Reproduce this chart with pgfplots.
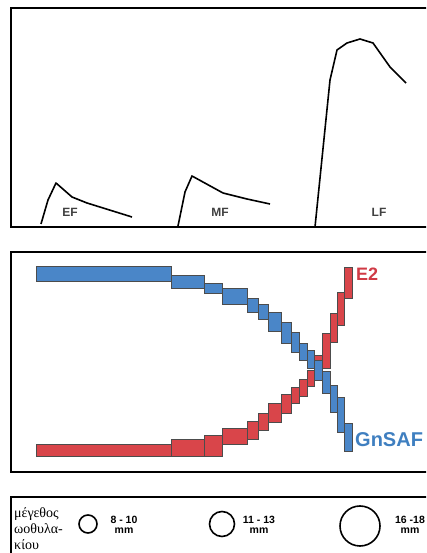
\documentclass[border=0pt]{standalone}
\usepackage{pgfplots}
\pgfplotsset{compat=1.18}
\usepackage{fontspec}
\setmainfont{Liberation Sans}
\newfontfamily\grfont{Liberation Serif}

\definecolor{gnblue}{RGB}{74,134,200}
\definecolor{e2red}{RGB}{217,69,74}
\definecolor{e2text}{RGB}{208,58,69}
\definecolor{gntext}{RGB}{63,127,192}

% all three panels share the same pixel-like x range, y grows downwards
\pgfplotsset{
  panel/.style={scale only axis, width=429pt, xmin=11, xmax=440,
    y dir=reverse, xtick=\empty, ytick=\empty,
    axis line style={line width=1.4pt}},
  curve/.style={black, line width=1.6pt, line join=round, no marks},
  blu/.style={fill=gnblue, draw=black!70, line width=0.5pt, no marks},
  rd/.style={fill=e2red, draw=black!70, line width=0.5pt, no marks},
}
\tikzset{
  lbl/.style={font=\bfseries\fontsize{12}{14}\selectfont, text=black!75},
  sz/.style={font=\bfseries\fontsize{10.5}{10.5}\selectfont, align=center, inner sep=0pt},
  gr/.style={anchor=base west, inner sep=0pt, font=\grfont\fontsize{14}{16}\selectfont},
}

\begin{document}
\begin{tikzpicture}
\useasboundingbox (0,0) rectangle (426pt,553pt);
\clip (0,0) rectangle (426pt,553pt);

% --- follicle phases
\begin{axis}[panel, at={(11pt,326pt)}, anchor=south west,
  height=219pt, ymin=8, ymax=227]
  \addplot[curve] coordinates {(41,224) (48,200) (56,183) (72,197) (87,203) (132,217)};
  \addplot[curve] coordinates {(178,226) (185,192) (192,176) (223,193) (247,199) (270,204)};
  \addplot[curve] coordinates {(315,227) (330,80) (337,50) (347,43) (360,39) (373,43) (390,67) (406,83)};
  \node[lbl] at (axis cs:70,212) {EF};
  \node[lbl] at (axis cs:220,212) {MF};
  \node[lbl] at (axis cs:379,212) {LF};
\end{axis}

% --- GnSAF vs E2
\begin{axis}[panel, at={(11pt,81pt)}, anchor=south west,
  height=220pt, ymin=252, ymax=472, clip=false]
  \addplot[blu] coordinates {(36,266) (171,266) (171,281) (36,281)} --cycle;
  \addplot[blu] coordinates {(171,275) (204,275) (204,288) (171,288)} --cycle;
  \addplot[blu] coordinates {(204,283) (222,283) (222,293) (204,293)} --cycle;
  \addplot[blu] coordinates {(222,288) (247,288) (247,304) (222,304)} --cycle;
  \addplot[blu] coordinates {(247,298) (258,298) (258,312) (247,312)} --cycle;
  \addplot[blu] coordinates {(258,304) (268,304) (268,319) (258,319)} --cycle;
  \addplot[blu] coordinates {(268,312) (281,312) (281,331) (268,331)} --cycle;
  \addplot[blu] coordinates {(281,322) (291,322) (291,343) (281,343)} --cycle;
  \addplot[blu] coordinates {(291,332) (299,332) (299,352) (291,352)} --cycle;
  \addplot[blu] coordinates {(299,343) (307,343) (307,360) (299,360)} --cycle;
  \addplot[blu] coordinates {(307,350) (314,350) (314,368) (307,368)} --cycle;
  \addplot[rd] coordinates {(36,444) (171,444) (171,456) (36,456)} --cycle;
  \addplot[rd] coordinates {(171,439) (204,439) (204,456) (171,456)} --cycle;
  \addplot[rd] coordinates {(204,435) (222,435) (222,456) (204,456)} --cycle;
  \addplot[rd] coordinates {(222,428) (247,428) (247,444) (222,444)} --cycle;
  \addplot[rd] coordinates {(247,421) (258,421) (258,439) (247,439)} --cycle;
  \addplot[rd] coordinates {(258,413) (268,413) (268,430) (258,430)} --cycle;
  \addplot[rd] coordinates {(268,403) (281,403) (281,422) (268,422)} --cycle;
  \addplot[rd] coordinates {(281,394) (291,394) (291,413) (281,413)} --cycle;
  \addplot[rd] coordinates {(291,387) (299,387) (299,403) (291,403)} --cycle;
  \addplot[rd] coordinates {(299,379) (307,379) (307,396) (299,396)} --cycle;
  \addplot[rd] coordinates {(307,370) (314,370) (314,386) (307,386)} --cycle;
  \addplot[rd] coordinates {(314,355) (322,355) (322,377) (314,377)} --cycle;
  \addplot[blu] coordinates {(314,360) (322,360) (322,380) (314,380)} --cycle;
  \addplot[blu] coordinates {(322,371) (330,371) (330,393) (322,393)} --cycle;
  \addplot[rd] coordinates {(322,333) (330,333) (330,368) (322,368)} --cycle;
  \addplot[rd] coordinates {(330,313) (337,313) (337,342) (330,342)} --cycle;
  \addplot[rd] coordinates {(337,292) (344,292) (344,325) (337,325)} --cycle;
  \addplot[rd] coordinates {(344,267) (352,267) (352,298) (344,298)} --cycle;
  \addplot[blu] coordinates {(330,385) (337,385) (337,412) (330,412)} --cycle;
  \addplot[blu] coordinates {(337,397) (344,397) (344,432) (337,432)} --cycle;
  \addplot[blu] coordinates {(344,423) (352,423) (352,451) (344,451)} --cycle;
  \node[anchor=west, text=e2text, font=\bfseries\fontsize{18}{20}\selectfont, inner sep=0pt]
    at (axis cs:356,274) {E2};
  \node[anchor=west, text=gntext, font=\bfseries\fontsize{20}{22}\selectfont, inner sep=0pt]
    at (axis cs:355,440) {GnSAF};
\end{axis}

% --- follicle size legend
\begin{axis}[panel, at={(11pt,-10pt)}, anchor=south west,
  height=66pt, ymin=497, ymax=563, clip=false]
  \addplot[only marks, mark=o, mark size=9pt, mark options={line width=1.6pt}] coordinates {(88,524)};
  \addplot[only marks, mark=o, mark size=12.5pt, mark options={line width=1.6pt}] coordinates {(222,524)};
  \addplot[only marks, mark=o, mark size=20pt, mark options={line width=1.6pt}] coordinates {(360,526)};
  \node[gr] at (axis cs:14,518) {μέγεθος};
  \node[gr] at (axis cs:14,534) {ωοθυλα-};
  \node[gr] at (axis cs:14,550) {κίου};
  \node[sz] at (axis cs:124,525) {8 - 10\\mm};
  \node[sz] at (axis cs:259,525) {11 - 13\\mm};
  \node[sz] at (axis cs:410,525) {16 -18\\mm};
\end{axis}
\end{tikzpicture}
\end{document}
